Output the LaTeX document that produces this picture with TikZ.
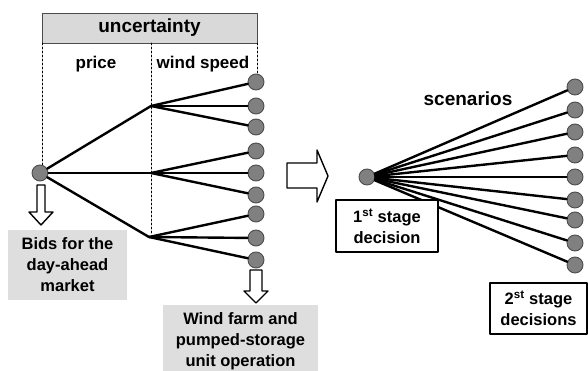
\documentclass[tikz,border=0pt]{standalone}
\usepackage{fontspec}
\setmainfont{Liberation Sans}
\begin{document}
\begin{tikzpicture}[x=1pt,y=-1pt,line join=round,line cap=round,
  leaf/.style={circle,fill=black!50,draw=black!70,line width=0.9pt,minimum size=16pt,inner sep=0pt},
  edge/.style={line width=2.4pt},
  guide/.style={dashed,line width=0.6pt,dash pattern=on 2pt off 2pt},
  greybox/.style={fill=black!13,align=center,inner sep=0pt,font=\fontsize{16.5}{21}\bfseries},
  decbox/.style={draw,fill=white,line width=1.4pt,align=center,inner sep=0pt,font=\fontsize{16.5}{21}\bfseries},
  hollow/.style={draw,fill=white,line width=1.4pt}]
\useasboundingbox (0,0) rectangle (588,371);
% header
\node[draw=black!70,fill=black!15,line width=0.8pt,minimum width=215pt,minimum height=30pt,inner sep=0pt,font=\fontsize{19}{22}\bfseries] (unc) at (149.5,28) {uncertainty};
\node[font=\fontsize{17}{20}\bfseries] (price) at (96,64) {price};
\node[font=\fontsize{17}{20}\bfseries] (wind) at (203,64) {wind speed};
\draw[guide] (42,43) -- (42,166);
\draw[guide] (151,43) -- (151,233);
\draw[guide] (257,43) -- (257,74);
% scenario tree
\node[leaf] (root) at (40,173) {};
\coordinate (b1) at (151,106);
\coordinate (b2) at (151,173);
\coordinate (b3) at (149,237);
\foreach \y [count=\i] in {82,106,127,151,173,195,214,238,260}
  \node[leaf] (l\i) at (256,\y) {};
\foreach \b in {b1,b2,b3}
  \draw[edge] (root) -- (\b);
\foreach \i/\b in {1/b1,2/b1,3/b1,4/b2,5/b2,6/b2,7/b3,8/b3,9/b3}
  \draw[edge] (\b) -- (l\i);
% decisions of the tree
\draw[hollow] (37,185) -- (45,185) -- (45,212) -- (53,212) -- (41,225) -- (29,212) -- (37,212) -- cycle;
\node[greybox,minimum width=119pt,minimum height=70pt] (bids) at (67.5,265) {Bids for the\\day-ahead\\market};
\draw[hollow] (250,270) -- (262,270) -- (262,291) -- (268,291) -- (256,303) -- (244,291) -- (250,291) -- cycle;
\node[greybox,minimum width=155pt,minimum height=72pt] (oper) at (240.5,341) {Wind farm and\\pumped-storage\\unit operation};
% big arrow
\draw[hollow] (287,163) -- (317,163) -- (317,150) -- (328,176) -- (317,202) -- (317,188) -- (287,188) -- cycle;
% two-stage fan
\node[font=\fontsize{19}{22}\bfseries] (scen) at (468,99) {scenarios};
\node[leaf] (sroot) at (367,177) {};
\foreach \y [count=\i] in {87,110,132,155,177,200,220,243,265}
  \node[leaf] (r\i) at (575,\y) {};
\foreach \i in {1,...,9}
  \draw[edge] (sroot) -- (r\i);
\node[decbox,minimum width=102pt,minimum height=52pt] (first) at (387,226) {1\textsuperscript{st} stage\\decision};
\node[decbox,minimum width=97pt,minimum height=51pt] (second) at (538.5,308.5) {2\textsuperscript{st} stage\\decisions};
\end{tikzpicture}
\end{document}
